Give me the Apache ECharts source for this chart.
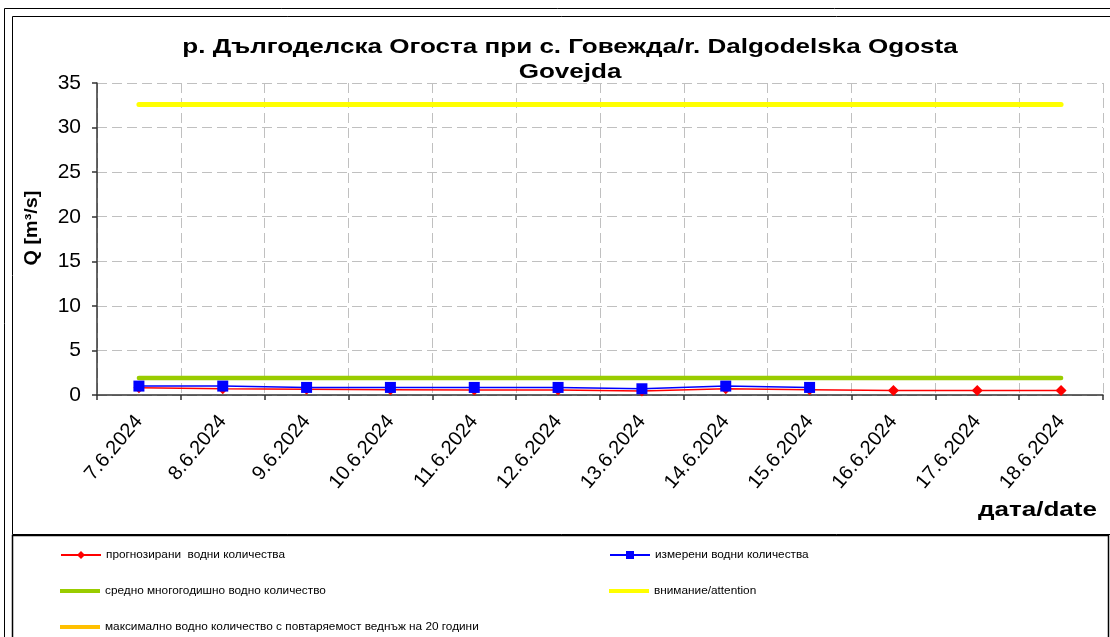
<!DOCTYPE html>
<html>
<head>
<meta charset="utf-8">
<script src="https://cdn.jsdelivr.net/npm/echarts@6/dist/echarts.min.js"></script>
<style>
html,body{margin:0;padding:0;background:#fff;}
#chart{width:1110px;height:637px;}
</style>
</head>
<body>
<div id="chart"></div>
<script>
const dates = ['7.6.2024','8.6.2024','9.6.2024','10.6.2024','11.6.2024','12.6.2024','13.6.2024','14.6.2024','15.6.2024','16.6.2024','17.6.2024','18.6.2024'];
const forecastQ = [0.8, 0.7, 0.65, 0.6, 0.55, 0.55, 0.45, 0.7, 0.6, 0.5, 0.5, 0.5];
const measuredQ = [1.0, 1.0, 0.85, 0.85, 0.85, 0.85, 0.7, 1.0, 0.85];
const averageQ = [1.9, 1.9, 1.9, 1.9, 1.9, 1.9, 1.9, 1.9, 1.9, 1.9, 1.9, 1.9];
const attentionQ = [32.6, 32.6, 32.6, 32.6, 32.6, 32.6, 32.6, 32.6, 32.6, 32.6, 32.6, 32.6];
const max20yQ = [];
const yTicks = [0, 5, 10, 15, 20, 25, 30, 35];

const names = {
  forecast: 'прогнозирани  водни количества',
  measured: 'измерени водни количества',
  average: 'средно многогодишно водно количество',
  attention: 'внимание/attention',
  max20: 'максимално водно количество с повтаряемост веднъж на 20 години'
};

const chart = echarts.init(document.getElementById('chart'));
const font = 'Arial, "Liberation Sans", sans-serif';
const legendText = {fontSize: 11.8, fontFamily: font, color: '#000'};
function lg(name, left, top) {
  return {data: [name], left: left, top: top, itemWidth: 40, itemHeight: 10, textStyle: legendText, selectedMode: false, padding: 0};
}
function lgBar(name, left, top) {
  return {data: [{name: name, icon: 'rect'}], left: left, top: top, itemWidth: 40, itemHeight: 4, textStyle: legendText, selectedMode: false, padding: 0};
}
chart.setOption({
  animation: false,
  backgroundColor: '#fff',
  grid: {left: 97, right: 7, top: 83, bottom: 242, containLabel: false},
  legend: [
    lg(names.forecast, 60, 549),
    lg(names.measured, 609, 549),
    lgBar(names.average, 60, 585),
    lgBar(names.attention, 609, 585),
    lgBar(names.max20, 60, 621)
  ],
  graphic: [
    {type: 'rect', silent: true, shape: {x: 4.5, y: 8.5, width: 1120, height: 650}, style: {fill: null, stroke: '#000', lineWidth: 1}},
    {type: 'rect', silent: true, shape: {x: 12.5, y: 16.5, width: 1110, height: 518}, style: {fill: null, stroke: '#000', lineWidth: 1}},
    {type: 'rect', silent: true, shape: {x: 12.5, y: 535.5, width: 1096, height: 120}, style: {fill: null, stroke: '#000', lineWidth: 1.5}},
    {type: 'text', silent: true, x: 570, y: 59.5, scaleX: 1.24, style: {text: 'р. Дългоделска Огоста при с. Говежда/r. Dalgodelska Ogosta\nGovejda', align: 'center', verticalAlign: 'middle', font: 'bold 21px ' + font, lineHeight: 25, fill: '#000'}},
    {type: 'text', silent: true, x: 32, y: 228, rotation: Math.PI / 2, scaleX: 1.1, style: {text: 'Q [m³/s]', align: 'center', verticalAlign: 'middle', font: 'bold 18px ' + font, fill: '#000'}},
    {type: 'text', silent: true, x: 1097, y: 510, scaleX: 1.24, style: {text: 'дата/date', align: 'right', verticalAlign: 'middle', font: 'bold 21px ' + font, fill: '#000'}}
  ],
  xAxis: {
    type: 'category',
    data: dates,
    boundaryGap: true,
    axisLine: {lineStyle: {color: '#333', width: 1.5}},
    axisTick: {show: true, length: 5, lineStyle: {color: '#333', width: 1.5}},
    axisLabel: {rotate: 50, fontSize: 20, fontFamily: font, color: '#000', margin: 23, interval: 0},
    splitLine: {show: true, interval: 0, lineStyle: {type: [10, 5], color: '#c0c0c0', width: 1}}
  },
  yAxis: {
    type: 'value',
    min: yTicks[0],
    max: yTicks[yTicks.length - 1],
    interval: 5,
    axisLine: {show: true, lineStyle: {color: '#333', width: 1.5}},
    axisTick: {show: true, length: 5, lineStyle: {color: '#333', width: 1.5}},
    axisLabel: {fontSize: 21, fontFamily: font, color: '#000', margin: 16},
    splitLine: {show: true, lineStyle: {type: [10, 5], color: '#c0c0c0', width: 1}}
  },
  series: [
    {name: names.forecast, type: 'line', data: forecastQ, symbol: 'diamond', symbolSize: 11, color: '#ff0000', lineStyle: {width: 1.5, color: '#ff0000'}, itemStyle: {color: '#ff0000'}, z: 3},
    {name: names.measured, type: 'line', data: measuredQ, symbol: 'rect', symbolSize: 11, color: '#0000ff', lineStyle: {width: 1.5, color: '#0000ff'}, itemStyle: {color: '#0000ff'}, z: 4},
    {name: names.average, type: 'line', data: averageQ, symbol: 'none', showSymbol: false, color: '#99cc00', lineStyle: {width: 4.5, color: '#99cc00', cap: 'round'}, z: 2},
    {name: names.attention, type: 'line', data: attentionQ, symbol: 'none', showSymbol: false, color: '#ffff00', lineStyle: {width: 5, color: '#ffff00', cap: 'round'}, z: 2},
    {name: names.max20, type: 'line', data: max20yQ, symbol: 'none', showSymbol: false, color: '#ffc000', lineStyle: {width: 4, color: '#ffc000'}, z: 2}
  ]
});
</script>
</body>
</html>
